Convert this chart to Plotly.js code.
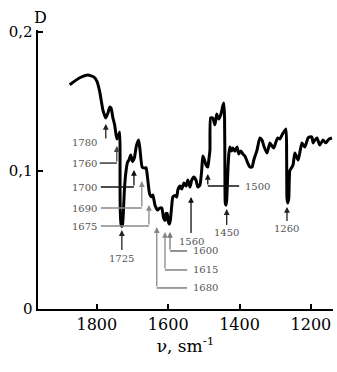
<!DOCTYPE html>
<html><head><meta charset="utf-8">
<script src="https://cdn.plot.ly/plotly-3.0.1.min.js"></script>
<style>html,body{margin:0;padding:0;background:#fff;}#chart{width:337px;height:372px;}</style>
</head><body><div id="chart"></div>
<script>
// IR spectrum: wavenumber (sm^-1) and optical density D
const wavenumber = [1876,1848,1825,1808,1800,1792,1783,1775,1769,1764,1760,1755,1750,1744,1740,1736,1735,1735,1734,1732,1730,1728,1726,1723,1719,1714,1710,1705,1700,1695,1689,1683,1679,1673,1667,1662,1658,1652,1647,1643,1637,1630,1624,1618,1613,1609,1606,1603,1600,1597,1594,1590,1587,1581,1576,1573,1567,1562,1556,1550,1545,1539,1534,1528,1522,1517,1511,1506,1503,1500,1494,1489,1486,1483,1481,1475,1469,1464,1458,1452,1447,1444,1442,1441,1440,1438,1436,1433,1430,1427,1422,1419,1413,1407,1402,1396,1391,1385,1377,1371,1365,1360,1351,1343,1337,1332,1323,1315,1309,1304,1298,1293,1287,1281,1270,1268,1267,1265,1262,1259,1253,1250,1245,1236,1231,1225,1217,1208,1203,1197,1194,1189,1183,1175,1166,1158,1149,1141];
const absorbance = [0.162,0.167,0.169,0.1675,0.1646,0.157,0.1437,0.138,0.1415,0.1458,0.145,0.138,0.1328,0.1227,0.125,0.1278,0.110,0.085,0.068,0.061,0.0595,0.061,0.068,0.085,0.098,0.106,0.1076,0.1112,0.1065,0.109,0.118,0.122,0.115,0.1025,0.1018,0.102,0.095,0.083,0.081,0.0823,0.075,0.0715,0.0729,0.073,0.0657,0.064,0.069,0.069,0.0635,0.0614,0.064,0.075,0.0809,0.082,0.0809,0.0859,0.0888,0.0866,0.091,0.0888,0.0931,0.0881,0.0931,0.0953,0.0931,0.0881,0.0895,0.1004,0.1105,0.109,0.104,0.1025,0.108,0.1148,0.138,0.1379,0.133,0.1408,0.1372,0.1408,0.1466,0.1487,0.138,0.100,0.0765,0.075,0.0787,0.098,0.112,0.117,0.1141,0.1162,0.114,0.117,0.112,0.1141,0.112,0.1105,0.1054,0.1025,0.1025,0.1076,0.1148,0.1235,0.122,0.1177,0.1126,0.1199,0.1177,0.1162,0.1206,0.1235,0.1228,0.1256,0.130,0.110,0.080,0.0765,0.080,0.100,0.1025,0.104,0.1126,0.1076,0.113,0.1199,0.117,0.1235,0.1242,0.1242,0.1199,0.122,0.1235,0.1184,0.122,0.120,0.1228,0.1235];
const xTickVals = [1800, 1600, 1400, 1200];
const yTickVals = [0, 0.1, 0.2];
const yTickText = ['0', '0,1', '0,2'];
const peakLabels = ['1780','1760','1700','1690','1675','1725','1680','1615','1600','1560','1500','1450','1260'];

// Callout layout (axis units): arrow head, tail, optional leader end, label position/anchor, colour.
// 'direct' callouts have the label straight below the arrow, so the label itself carries the arrow.
const callouts = [
  {hx:1775, hy:0.1336, ty:0.122,  lead:null, lx:1836, ly:0.1199, anchor:'center', c:'#222'},
  {hx:1744, hy:0.1177, ty:0.1054, lead:1792, lx:1836, ly:0.1054, anchor:'center', c:'#444'},
  {hx:1696, hy:0.1004, ty:0.0881, lead:1789, lx:1836, ly:0.0881, anchor:'center', c:'#111'},
  {hx:1674, hy:0.0924, ty:0.0729, lead:1789, lx:1836, ly:0.0729, anchor:'center', c:'#888'},
  {hx:1654, hy:0.0751, ty:0.0599, lead:1789, lx:1836, ly:0.0599, anchor:'center', c:'#888'},
  {hx:1730, hy:0.057,  direct:true, lx:1730, ly:0.0368, c:'#222'},
  {hx:1632, hy:0.0592, ty:0.0152, lead:1547, lx:1536, ly:0.0152, anchor:'left', c:'#888'},
  {hx:1609, hy:0.0556, ty:0.0282, lead:1547, lx:1536, ly:0.0282, anchor:'left', c:'#888'},
  {hx:1595, hy:0.0556, ty:0.0419, lead:1547, lx:1536, ly:0.0419, anchor:'left', c:'#777'},
  {hx:1536, hy:0.0809, direct:true, lx:1536, ly:0.0491, c:'#111'},
  {hx:1489, hy:0.0975, ty:0.0888, lead:1401, lx:1390, ly:0.0888, anchor:'left', c:'#111'},
  {hx:1436, hy:0.0722, direct:true, lx:1436, ly:0.0549, c:'#222'},
  {hx:1267, hy:0.0737, direct:true, lx:1267, ly:0.0578, c:'#222'}
];

const labelFont = {family:'DejaVu Serif', size:10, color:'#555'};
const annotations = [];
const shapes = [];
callouts.forEach((o, i) => {
  if (o.direct) {
    annotations.push({x:o.hx, y:o.hy, ax:o.lx, ay:o.ly, xref:'x', yref:'y', axref:'x', ayref:'y',
      text:peakLabels[i], font:labelFont, showarrow:true, arrowhead:2, arrowsize:0.9, arrowwidth:1.3,
      arrowcolor:o.c, standoff:0, startstandoff:1});
    return;
  }
  annotations.push({x:o.hx, y:o.hy, ax:o.hx, ay:o.ty, xref:'x', yref:'y', axref:'x', ayref:'y',
    text:'', showarrow:true, arrowhead:2, arrowsize:0.9, arrowwidth:1.3, arrowcolor:o.c, standoff:0, startstandoff:0});
  if (o.lead !== null) {
    shapes.push({type:'line', xref:'x', yref:'y', x0:o.hx, x1:o.lead, y0:o.ty, y1:o.ty,
      line:{color:o.c, width:1.6}});
  }
  annotations.push({x:o.lx, y:o.ly, xref:'x', yref:'y', text:peakLabels[i], showarrow:false,
    xanchor:o.anchor, yanchor:'middle', font:labelFont});
});
annotations.push({x:0.008, y:1.045, xref:'paper', yref:'paper', text:'D', showarrow:false,
  xanchor:'center', yanchor:'middle', font:{family:'DejaVu Serif', size:16, color:'#000'}});

const trace = {x:wavenumber, y:absorbance, type:'scatter', mode:'lines',
  line:{color:'#000', width:3, shape:'spline', smoothing:0.5}, hoverinfo:'skip'};

const layout = {
  width:337, height:372,
  margin:{l:38, r:4, t:30, b:63},
  paper_bgcolor:'#fff', plot_bgcolor:'#fff',
  showlegend:false,
  xaxis:{range:[1965,1138], tickvals:xTickVals, ticks:'inside', ticklen:5, tickwidth:2, tickcolor:'#000',
    showline:true, linecolor:'#000', linewidth:2, showgrid:false, zeroline:false,
    tickfont:{family:'DejaVu Serif', size:16, color:'#000'},
    title:{text:'\u03bd, sm<sup>-1</sup>', font:{family:'DejaVu Serif', size:17, color:'#000'}, standoff:6}},
  yaxis:{range:[0,0.2015], tickvals:yTickVals, ticktext:yTickText, ticks:'inside', ticklen:5, tickwidth:2, tickcolor:'#000',
    showline:true, linecolor:'#000', linewidth:2.5, showgrid:false, zeroline:false,
    tickfont:{family:'DejaVu Serif', size:15, color:'#000'}},
  annotations:annotations,
  shapes:shapes
};
Plotly.newPlot('chart', [trace], layout, {staticPlot:true, displayModeBar:false});
</script>
</body></html>
